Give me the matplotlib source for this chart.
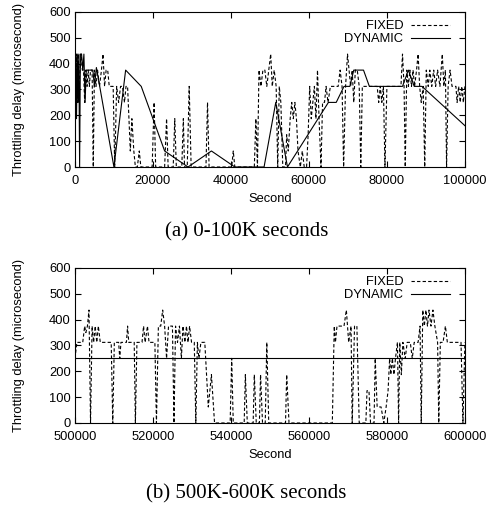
"""Throttling delay over time, FIXED vs DYNAMIC, two time windows."""
import matplotlib
matplotlib.use('Agg')
import matplotlib.pyplot as plt

# (a) 0-100K seconds
fixed_a_x = [0, 200, 400, 600, 800, 1000, 1300, 1600, 1900, 2200, 2500, 2800, 3100,
             3400, 3700, 4000, 4400, 4700, 5000, 5400, 5800, 6300, 6800, 7200, 7600,
             8000, 8400, 8800, 9300, 9800, 10200, 10700, 11200, 11700, 12200, 12700,
             13100, 13500, 14200, 14600, 15100, 15500, 16000, 16500, 16900, 19800,
             20300, 20700, 23000, 23500, 23900, 25200, 25600, 26000, 27400, 27800,
             28100, 28800, 29300, 29800, 33600, 34000, 34400, 40200, 40600, 41000,
             46000, 46400, 46800, 47200, 47700, 48200, 48700, 49200, 49700, 50200,
             50600, 51100, 51600, 52000, 52400, 52800, 53300, 54000, 54300, 54700,
             55200, 55600, 56000, 56400, 56800, 57200, 57800, 58300, 58800, 59400,
             59800, 60200, 60600, 61000, 61400, 61800, 62200, 62600, 63100, 63500,
             64000, 64400, 64900, 65500, 66000, 66500, 67500, 68000, 68500, 68900,
             69400, 69900, 70300, 70700, 71100, 71500, 71900, 72400, 72900, 73300,
             73700, 74500, 75500, 76500, 77500, 77900, 78300, 78700, 79100, 79500,
             80000, 81000, 82000, 83000, 83600, 84000, 84400, 84700, 85100, 85500,
             85900, 86300, 86700, 87100, 87600, 88000, 88400, 88800, 89300, 89700,
             90100, 90600, 91000, 91500, 92000, 92500, 93000, 93600, 94200, 94600,
             95000, 95300, 95700, 96200, 96700, 97200, 97700, 98000, 98400, 98800,
             99200, 99600, 100000]
fixed_a_y = [312, 187, 437, 250, 437, 312, 375, 437, 375, 375, 250, 375, 312,
             375, 312, 375, 375, 0, 375, 312, 375, 312, 375, 437, 312,
             375, 375, 312, 312, 312, 0, 312, 250, 312, 312, 250,
             312, 312, 62, 187, 62, 0, 0, 62, 0, 0,
             250, 0, 0, 187, 0, 0, 187, 0, 0, 187,
             0, 0, 312, 0, 0, 250, 0, 0, 62, 0,
             0, 187, 0, 375, 312, 375, 375, 312, 375, 437,
             312, 375, 312, 0, 312, 250, 0, 0, 125, 62,
             187, 250, 187, 250, 187, 62, 0, 62, 0, 0,
             125, 312, 187, 250, 312, 187, 375, 187, 0, 250,
             250, 312, 250, 312, 312, 312, 312, 375, 312, 0,
             312, 437, 375, 312, 375, 250, 375, 375, 312, 0,
             312, 312, 312, 312, 312, 250, 312, 250, 312, 0,
             312, 312, 312, 312, 312, 437, 312, 0, 375, 312,
             375, 312, 375, 312, 375, 437, 312, 250, 312, 0,
             375, 312, 375, 312, 375, 312, 375, 312, 437, 312,
             375, 0, 312, 375, 312, 312, 312, 250, 312, 250,
             312, 250, 312]

dynamic_a_x = [0, 200, 400, 600, 800, 1000, 1200, 1400, 1700, 2000, 2300, 2600,
               2900, 3400, 4000, 4600, 5000, 5500, 10000, 13000, 17000, 23000,
               29000, 35000, 41000, 48500, 51500, 54500, 65000, 67000, 69000,
               70500, 71500, 74000, 75500, 84000, 85500, 87000, 89000, 100000]
dynamic_a_y = [187, 437, 187, 437, 250, 437, 0, 437, 437, 375, 437, 250,
               375, 375, 375, 375, 312, 385, 0, 375, 312, 62,
               0, 62, 0, 0, 250, 0, 250, 250, 312,
               312, 375, 375, 312, 312, 375, 312, 312, 160]

# (b) 500K-600K seconds
fixed_b_x = [500000, 500500, 502000, 502500, 502800, 503200, 503600, 504000, 504400,
             504800, 505200, 505600, 506000, 506500, 509300, 509700, 510100, 511200,
             511500, 511800, 513200, 513500, 513800, 515200, 515500, 515900, 517200,
             517600, 518000, 518600, 519000, 520500, 520900, 521400, 522000, 522500,
             523000, 523500, 524000, 525000, 525400, 525800, 526300, 526800, 527300,
             527700, 528200, 528600, 529000, 529400, 529900, 530600, 531000, 531400,
             531800, 532300, 533300, 534200, 535000, 535800, 539800, 540200, 540600,
             543400, 543700, 544200, 545700, 546000, 546500, 547300, 547600, 548100,
             548800, 549200, 549700, 554000, 554300, 554900, 566000, 566500, 566800,
             567200, 569000, 569600, 570200, 570800, 571100, 571700, 572300, 572900,
             574600, 574900, 575400, 575800, 576700, 577000, 577500, 578500, 579200,
             579800, 580300, 580700, 581000, 581400, 581800, 582200, 582700, 583000,
             583300, 583700, 584100, 584700, 585200, 586000, 586500, 587000, 588000,
             588500, 588800, 589200, 589600, 590000, 590400, 590800, 591300, 591800,
             592300, 593000, 593300, 593700, 594400, 595000, 595500, 599000, 599500,
             600000]
fixed_b_y = [250, 312, 312, 375, 350, 375, 437, 0, 375,
             312, 375, 312, 375, 312, 312, 0, 312, 312,
             250, 312, 312, 375, 312, 312, 0, 312, 312,
             375, 312, 375, 312, 312, 0, 375, 375, 437,
             375, 250, 375, 375, 0, 375, 312, 375, 250,
             375, 312, 375, 312, 375, 312, 312, 0, 312,
             250, 312, 312, 62, 187, 0, 0, 250, 0,
             0, 187, 0, 0, 187, 0, 0, 187, 0,
             0, 312, 0, 0, 187, 0, 0, 375, 312,
             375, 375, 437, 312, 375, 0, 375, 375, 0,
             0, 125, 125, 0, 0, 250, 62, 62, 0,
             62, 125, 250, 187, 250, 187, 250, 312, 0,
             312, 187, 312, 250, 312, 312, 250, 312, 312,
             375, 0, 437, 375, 437, 375, 437, 375, 437,
             375, 312, 0, 312, 312, 375, 312, 312, 0,
             312]

dynamic_b_x = [500000, 600000]
dynamic_b_y = [250, 250]

y_ticks = [0, 100, 200, 300, 400, 500, 600]
x_ticks_a = [0, 20000, 40000, 60000, 80000, 100000]
x_ticks_b = [500000, 520000, 540000, 560000, 580000, 600000]

plt.rcParams['font.family'] = ['Liberation Sans', 'DejaVu Sans']
FS = 9.3

fig = plt.figure(figsize=(4.93, 5.05), dpi=100)

panels = [
    (fixed_a_x, fixed_a_y, dynamic_a_x, dynamic_a_y, x_ticks_a,
     (0, 100000), 0.6693, '(a) 0-100K seconds', 0.5406),
    (fixed_b_x, fixed_b_y, dynamic_b_x, dynamic_b_y, x_ticks_b,
     (500000, 600000), 0.1624, '(b) 500K-600K seconds', 0.0218),
]

for fx, fy, dx, dy, xt, xlim, bottom, caption, cap_y in panels:
    ax = fig.add_axes([0.152, bottom, 0.791, 0.307])
    ax.plot(fx, fy, color='black', linestyle=(0, (3, 2)), linewidth=0.8, label='FIXED')
    ax.plot(dx, dy, color='black', linewidth=0.8, label='DYNAMIC')
    ax.set_xlim(*xlim)
    ax.set_ylim(0, 600)
    ax.set_xticks(xt)
    ax.set_yticks(y_ticks)
    ax.tick_params(direction='in', top=True, right=True, length=4, width=0.8,
                   labelsize=FS, pad=3)
    ax.tick_params(axis='x', pad=6)
    for sp in ax.spines.values():
        sp.set_linewidth(0.8)
    ax.set_xlabel('Second', fontsize=FS, labelpad=4)
    ax.set_ylabel('Throttling delay (microsecond)', fontsize=FS)
    ax.yaxis.set_label_coords(-0.129, 0.5)
    leg = ax.legend(loc='upper right', bbox_to_anchor=(0.968, 0.962),
                    frameon=False, markerfirst=False, fontsize=FS,
                    handlelength=3.0, handletextpad=0.6, labelspacing=0.06,
                    borderpad=0.2, borderaxespad=0)
    for t in leg.get_texts():
        t.set_ha('right')
    fig.text(0.5, cap_y, caption, ha='center', va='center',
             family=['Liberation Serif', 'DejaVu Serif'], fontsize=15)

fig.savefig('out.png', dpi=100, facecolor='white')
plt.close(fig)
